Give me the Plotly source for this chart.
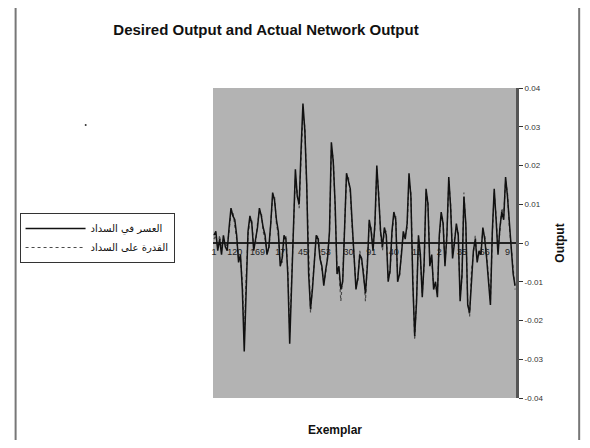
import plotly.graph_objects as go

# Desired output (solid) in units of 0.001
desired_raw = [
    2, 3, -2, 1, -3, 2, -1, -2, 4, 9, 7, 6, 2, -5, -3, -12, -28, -10, 3, 7,
    5, -2, 1, 4, 9, 7, 4, 2, -3, -1, 5, 13, 11, 6, 3, -6, -4, 2, 1, -8,
    -26, -12, 5, 19, 12, 10, 24, 36, 29, 15, -8, -17, -12, -6, 2, 1, -4, -6, -11, -7,
    -4, 3, 26, 21, 10, -8, -6, -12, -10, 4, 18, 16, 14, 5, -4, -12, -9, -3, -4, -8,
    -13, -6, 6, 3, -2, 5, 20, 12, 3, -1, 4, 2, -10, -7, 3, 8, 6, -10, -8, -3,
    3, 1, 5, 18, 12, -10, -24, -15, 2, -3, -14, -5, 14, 10, -6, -3, -12, -10, -14, 2,
    8, 5, -6, 2, 17, 9, -4, 0, 5, 2, -15, -8, 12, 5, -16, -18, -8, -2, 1, -5,
    -2, -3, 4, 1, -4, -10, -16, 3, 14, 6, -3, 4, 8, 6, 17, 12, 5, -2, -8, -11,
]
# Actual network output (dotted) in units of 0.001
actual_raw = [
    1, 2, -1, 2, -2, 1, 0, -1, 3, 8, 8, 5, 1, -4, -4, -10, -25, -9, 2, 6,
    6, -1, 0, 5, 8, 8, 3, 1, -2, -2, 4, 12, 12, 5, 2, -5, -5, 1, 2, -7,
    -23, -11, 4, 17, 13, 9, 22, 33, 30, 13, -7, -18, -11, -5, 1, 2, -3, -7, -10, -8,
    -3, 2, 24, 22, 9, -7, -7, -15, -9, 3, 17, 17, 13, 4, -5, -11, -10, -2, -5, -7,
    -15, -5, 5, 4, -1, 4, 19, 13, 2, -2, 3, 3, -9, -8, 2, 7, 7, -9, -9, -2,
    2, 2, 4, 16, 13, -9, -25, -14, 1, -4, -13, -6, 13, 11, -5, -4, -11, -11, -13, 1,
    7, 6, -5, 1, 16, 10, -3, 1, 4, 3, -14, -9, 13, 4, -15, -19, -7, -3, 2, -4,
    -3, -2, 3, 2, -3, -9, -15, 2, 13, 7, -2, 3, 9, 7, 16, 13, 4, -1, -7, -12,
]
desired = [v / 1000 for v in desired_raw]
actual = [v / 1000 for v in actual_raw]
exemplars = list(range(1, len(desired) + 1))

series_names = ["العسر في السداد", "القدرة على السداد"]
y_tick_vals = [0.04, 0.03, 0.02, 0.01, 0, -0.01, -0.02, -0.03, -0.04]
y_tick_text = ["0.04", "0.03", "0.02", "0.01", "0", "-0.01", "-0.02", "-0.03", "-0.04"]
x_tick_vals = [1, 12, 24, 36, 48, 60, 72, 84, 96, 108, 120, 132, 144, 156]
x_tick_text = ["1", "120", "169", "17", "45", "53", "30", "91", "40", "11", "2", "35", "66", "9"]

fig = go.Figure()
fig.add_trace(go.Scatter(
    x=exemplars, y=actual, mode="lines", name=series_names[1],
    line=dict(color="#4a4a4a", width=1.2, dash="dot"),
))
fig.add_trace(go.Scatter(
    x=exemplars, y=desired, mode="lines", name=series_names[0],
    line=dict(color="#111111", width=1.5),
))

OFF = 8  # browser body margin
L, R, T, B = 209 - OFF, 516 - OFF, 88 - OFF, 398 - OFF
W, H = 590 - 2 * OFF, 448 - 2 * OFF

def px(x):
    return (x - OFF - L) / (R - L)

def py(y):
    return (B - (y - OFF)) / (B - T)

narrow = "Liberation Sans Narrow, Arial Narrow, Arial, sans-serif"

fig.update_layout(
    width=W, height=H,
    margin=dict(l=L, r=W - R, t=T, b=H - B, pad=0),
    paper_bgcolor="white",
    plot_bgcolor="#b3b3b3",
    showlegend=True,
    legend=dict(
        x=px(13), y=py(213), xanchor="left", yanchor="top",
        bordercolor="#333333", borderwidth=1, bgcolor="white",
        font=dict(family="DejaVu Sans, sans-serif", size=10, color="#111"),
        itemwidth=60, tracegroupgap=0, traceorder="reversed",
    ),
    title=dict(
        text="<b>Desired Output and Actual Network Output</b>",
        x=(266 - OFF) / W, xref="container", xanchor="center",
        y=1 - (30 - OFF) / H, yref="container", yanchor="middle",
        font=dict(family=narrow, size=15, color="#111"),
    ),
    xaxis=dict(
        range=[0.5, len(desired) + 0.5],
        anchor="free", position=0.5,
        showline=True, linecolor="#222", linewidth=1.5,
        showgrid=False, zeroline=False,
        tickvals=x_tick_vals, ticktext=x_tick_text,
        ticks="", tickfont=dict(family=narrow, size=9, color="#222"),
        layer="below traces",
    ),
    yaxis=dict(
        range=[-0.04, 0.04], side="right",
        tickvals=y_tick_vals, ticktext=y_tick_text,
        ticks="outside", ticklen=4, tickcolor="#333", tickwidth=1,
        showline=True, linecolor="#555", linewidth=3,
        showgrid=False, zeroline=False,
        tickfont=dict(family=narrow, size=8, color="#333"),
        title=dict(text="<b>Output</b>", font=dict(family="Liberation Sans, Arial", size=12, color="#111"), standoff=14),
    ),
    annotations=[
        dict(text="<b>Exemplar</b>", x=px(333), y=py(430), xref="paper", yref="paper",
             showarrow=False, font=dict(family=narrow, size=12, color="#111"),
             xanchor="center", yanchor="middle"),
    ],
    shapes=[
        dict(type="line", xref="paper", yref="paper", x0=px(9), x1=px(9), y0=py(440), y1=py(8),
             line=dict(color="#777", width=2)),
        dict(type="line", xref="paper", yref="paper", x0=px(580), x1=px(580), y0=py(440), y1=py(8),
             line=dict(color="#777", width=2)),
        dict(type="circle", xref="paper", yref="paper", x0=px(79), x1=px(81), y0=py(126), y1=py(124),
             fillcolor="#333", line=dict(width=0)),
    ],
)

fig.write_html("out.html")
